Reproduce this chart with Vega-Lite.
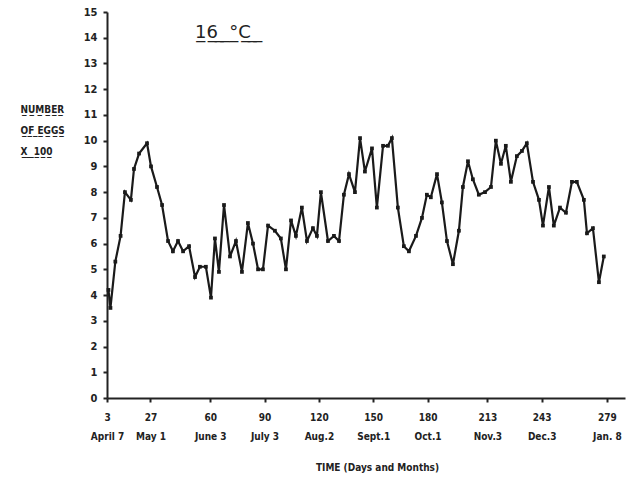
{
  "$schema": "https://vega.github.io/schema/vega-lite/v6.json",
  "autosize": {"type": "none"},
  "width": 518,
  "height": 386,
  "padding": {"left": 107, "top": 12, "right": 16, "bottom": 82},
  "background": "white",
  "config": {"view": {"stroke": null}, "font": "DejaVu Sans Condensed"},
  "title": {
    "text": "1̲6̲ ̲ ̲°̲C̲ ̲ ̲",
    "frame": "group",
    "anchor": "start",
    "orient": "top",
    "offset": 0,
    "baseline": "alphabetic",
    "dx": 88,
    "dy": 50,
    "font": "DejaVu Sans",
    "fontSize": 18,
    "fontWeight": "normal",
    "color": "#222"
  },
  "data": {"values": [
    {"day": 3.8, "eggs": 4.2}, {"day": 4.9, "eggs": 3.5}, {"day": 7.6, "eggs": 5.3}, {"day": 10.5, "eggs": 6.3},
    {"day": 12.9, "eggs": 8.0}, {"day": 16.2, "eggs": 7.7}, {"day": 17.9, "eggs": 8.9}, {"day": 20.7, "eggs": 9.5},
    {"day": 25.1, "eggs": 9.9}, {"day": 27.3, "eggs": 9.0}, {"day": 30.6, "eggs": 8.2}, {"day": 33.4, "eggs": 7.5},
    {"day": 36.7, "eggs": 6.1}, {"day": 39.4, "eggs": 5.7}, {"day": 42.2, "eggs": 6.1}, {"day": 45.0, "eggs": 5.7},
    {"day": 48.3, "eggs": 5.9}, {"day": 51.6, "eggs": 4.7}, {"day": 54.3, "eggs": 5.1}, {"day": 57.6, "eggs": 5.1},
    {"day": 60.4, "eggs": 3.9}, {"day": 62.6, "eggs": 6.2}, {"day": 64.8, "eggs": 4.9}, {"day": 67.6, "eggs": 7.5},
    {"day": 70.9, "eggs": 5.5}, {"day": 74.2, "eggs": 6.1}, {"day": 77.5, "eggs": 4.9}, {"day": 80.8, "eggs": 6.8},
    {"day": 83.6, "eggs": 6.0}, {"day": 86.4, "eggs": 5.0}, {"day": 89.1, "eggs": 5.0}, {"day": 91.9, "eggs": 6.7},
    {"day": 95.7, "eggs": 6.5}, {"day": 99.0, "eggs": 6.2}, {"day": 101.8, "eggs": 5.0}, {"day": 104.6, "eggs": 6.9},
    {"day": 107.3, "eggs": 6.3}, {"day": 110.6, "eggs": 7.4}, {"day": 113.4, "eggs": 6.1}, {"day": 116.7, "eggs": 6.6},
    {"day": 118.9, "eggs": 6.3}, {"day": 121.1, "eggs": 8.0}, {"day": 125.0, "eggs": 6.1}, {"day": 128.3, "eggs": 6.3},
    {"day": 131.1, "eggs": 6.1}, {"day": 133.8, "eggs": 7.9}, {"day": 136.6, "eggs": 8.7}, {"day": 139.9, "eggs": 8.0},
    {"day": 142.7, "eggs": 10.1}, {"day": 145.4, "eggs": 8.8}, {"day": 149.3, "eggs": 9.7}, {"day": 152.0, "eggs": 7.4},
    {"day": 155.4, "eggs": 9.8}, {"day": 158.1, "eggs": 9.8}, {"day": 160.3, "eggs": 10.1}, {"day": 163.6, "eggs": 7.4},
    {"day": 166.9, "eggs": 5.9}, {"day": 169.7, "eggs": 5.7}, {"day": 173.6, "eggs": 6.3}, {"day": 176.9, "eggs": 7.0},
    {"day": 179.6, "eggs": 7.9}, {"day": 181.8, "eggs": 7.8}, {"day": 185.2, "eggs": 8.7}, {"day": 187.9, "eggs": 7.6},
    {"day": 190.7, "eggs": 6.1}, {"day": 194.0, "eggs": 5.2}, {"day": 197.3, "eggs": 6.5}, {"day": 199.5, "eggs": 8.2},
    {"day": 202.3, "eggs": 9.2}, {"day": 205.0, "eggs": 8.5}, {"day": 208.3, "eggs": 7.9}, {"day": 211.7, "eggs": 8.0},
    {"day": 215.0, "eggs": 8.2}, {"day": 217.7, "eggs": 10.0}, {"day": 220.5, "eggs": 9.1}, {"day": 223.2, "eggs": 9.8},
    {"day": 226.0, "eggs": 8.4}, {"day": 229.3, "eggs": 9.4}, {"day": 232.1, "eggs": 9.6}, {"day": 234.8, "eggs": 9.9},
    {"day": 238.2, "eggs": 8.4}, {"day": 241.5, "eggs": 7.7}, {"day": 243.7, "eggs": 6.7}, {"day": 247.0, "eggs": 8.2},
    {"day": 249.7, "eggs": 6.7}, {"day": 253.1, "eggs": 7.4}, {"day": 256.4, "eggs": 7.2}, {"day": 259.7, "eggs": 8.4},
    {"day": 262.4, "eggs": 8.4}, {"day": 266.3, "eggs": 7.7}, {"day": 268.0, "eggs": 6.4}, {"day": 271.3, "eggs": 6.6},
    {"day": 274.6, "eggs": 4.5}, {"day": 277.3, "eggs": 5.5}
  ]},
  "encoding": {
    "x": {
      "field": "day", "type": "quantitative",
      "scale": {"domain": [3, 289], "nice": false, "zero": false},
      "axis": {
        "values": [3, 27, 60, 90, 120, 150, 180, 213, 243, 279],
        "labelExpr": "[['3','April 7'],['27','May 1'],['60','June 3'],['90','July 3'],['120','Aug.2'],['150','Sept.1'],['180','Oct.1'],['213','Nov.3'],['243','Dec.3'],['279','Jan. 8']][indexof([3,27,60,90,120,150,180,213,243,279], round(datum.value))]",
        "grid": false,
        "domainColor": "#222", "domainWidth": 2,
        "tickColor": "#222", "tickWidth": 2, "tickSize": 4,
        "labelFont": "DejaVu Sans Condensed", "labelFontSize": 10, "labelFontWeight": "bold",
        "labelColor": "#222", "labelPadding": 10, "labelBaseline": "top", "labelLineHeight": 19,
        "labelFlush": false, "labelOverlap": false,
        "title": "TIME   (Days and Months)",
        "titleFont": "DejaVu Sans Condensed", "titleFontSize": 10, "titleFontWeight": "bold",
        "titleColor": "#222", "titleX": 270, "titleY": 72, "titleBaseline": "alphabetic", "titleAlign": "center"
      }
    },
    "y": {
      "field": "eggs", "type": "quantitative",
      "scale": {"domain": [0, 15], "nice": false},
      "axis": {
        "values": [0, 1, 2, 3, 4, 5, 6, 7, 8, 9, 10, 11, 12, 13, 14, 15],
        "grid": false,
        "domainColor": "#222", "domainWidth": 2,
        "tickColor": "#222", "tickWidth": 2, "tickSize": 4,
        "labelFont": "DejaVu Sans Condensed", "labelFontSize": 11, "labelFontWeight": "bold",
        "labelColor": "#222", "labelPadding": 6,
        "title": ["N̲U̲M̲B̲E̲R̲", "O̲F̲ ̲E̲G̲G̲S̲", "X̲ ̲ ̲1̲0̲0̲"],
        "titleAngle": 0, "titleAlign": "left", "titleBaseline": "alphabetic",
        "titleX": -87, "titleY": 100, "titleLineHeight": 21,
        "titleFont": "DejaVu Sans Condensed", "titleFontSize": 10, "titleFontWeight": "bold", "titleColor": "#222"
      }
    }
  },
  "layer": [
    {"mark": {"type": "line", "color": "#1a1a1a", "strokeWidth": 2.2}},
    {"mark": {"type": "point", "shape": "square", "filled": true, "color": "#1a1a1a", "size": 14, "opacity": 1}}
  ]
}
